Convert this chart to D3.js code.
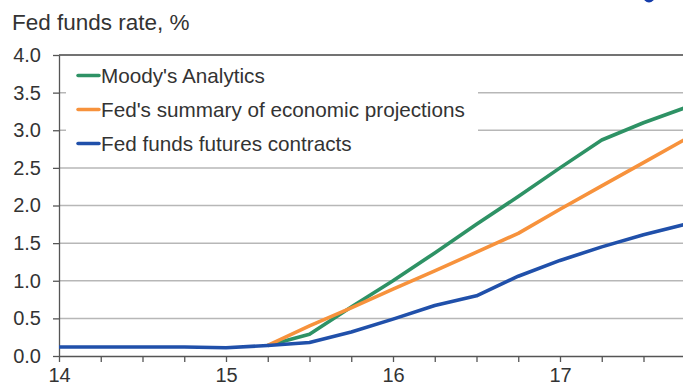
<!DOCTYPE html>
<html>
<head>
<meta charset="utf-8">
<script src="https://cdn.jsdelivr.net/npm/d3@7"></script>
<style>
  html, body { margin: 0; padding: 0; background: #fff; }
  svg { display: block; font-family: "Liberation Sans", Arial, sans-serif; }
</style>
</head>
<body>
<div class="container"></div>
<script>
// quarters as decimal years (14 = 2014Q1)
const periods = [14.0, 14.25, 14.5, 14.75, 15.0, 15.25, 15.5, 15.75, 16.0, 16.25, 16.5, 16.75, 17.0, 17.25, 17.5, 17.75];
const moodys  = [null, null, null, null, null, 0.14, 0.29, 0.65, 1.00, 1.37, 1.75, 2.12, 2.50, 2.87, 3.10, 3.30];
const fedSep  = [null, null, null, null, null, 0.14, 0.40, 0.64, 0.89, 1.13, 1.38, 1.63, 1.95, 2.26, 2.57, 2.88];
const futures = [0.12, 0.12, 0.12, 0.12, 0.11, 0.14, 0.18, 0.32, 0.49, 0.67, 0.80, 1.06, 1.27, 1.45, 1.61, 1.75];

const seriesNames = ["Moody's Analytics", "Fed's summary of economic projections", "Fed funds futures contracts"];
const seriesColors = ["rgb(46,146,101)", "rgb(247,146,60)", "rgb(32,80,170)"];
const yTicks = [0, 0.5, 1, 1.5, 2, 2.5, 3, 3.5, 4];
const xLabels = [14, 15, 16, 17];
const title = "Fed funds rate, %";

const WIDTH = 683, HEIGHT = 388;
const MARGIN = { left: 59, top: 55, bottom: 32 };
const TEXT_COLOR = "#333";
const AXIS_COLOR = "#555";

const svg = d3.select(".container")
  .append("svg")
  .attr("width", WIDTH)
  .attr("height", HEIGHT)
  .attr("viewBox", `0 0 ${WIDTH} ${HEIGHT}`);

// scales: one year is ~167px, the plot runs off the right edge
const x = d3.scaleLinear()
  .domain([14, 18])
  .range([MARGIN.left, MARGIN.left + 4 * 167]);
const y = d3.scaleLinear()
  .domain([0, 4])
  .range([HEIGHT - MARGIN.bottom, MARGIN.top]);

// bit of a logo peeking in at the top right
svg.append("ellipse")
  .attr("cx", 649).attr("cy", -4)
  .attr("rx", 6).attr("ry", 6.5)
  .attr("fill", "rgb(20,60,170)");

// title
svg.append("text")
  .attr("x", 12)
  .attr("y", 29.5)
  .attr("font-size", "22.5px")
  .attr("fill", TEXT_COLOR)
  .text(title);

// gridlines
svg.append("g")
  .selectAll("line")
  .data(yTicks.filter(d => d > 0 && d < 4))
  .enter()
  .append("line")
  .attr("x1", MARGIN.left)
  .attr("x2", WIDTH)
  .attr("y1", d => y(d))
  .attr("y2", d => y(d))
  .attr("stroke", "rgb(183,183,183)")
  .attr("stroke-width", 1.5);

// top frame line
svg.append("line")
  .attr("x1", MARGIN.left)
  .attr("x2", WIDTH)
  .attr("y1", y(4))
  .attr("y2", y(4))
  .attr("stroke", "#444")
  .attr("stroke-width", 1.3);

// Y axis
const yAxis = svg.append("g")
  .attr("transform", `translate(${MARGIN.left},0)`)
  .call(d3.axisLeft(y)
    .tickValues(yTicks)
    .tickFormat(d3.format(".1f"))
    .tickSize(6)
    .tickSizeOuter(0)
    .tickPadding(12));
yAxis.select(".domain").attr("stroke", AXIS_COLOR).attr("stroke-width", 1.3);
yAxis.selectAll(".tick line").attr("stroke", AXIS_COLOR).attr("stroke-width", 1.3);
yAxis.selectAll(".tick text")
  .attr("font-size", "20px")
  .attr("font-family", "Liberation Sans, Arial, sans-serif")
  .attr("fill", TEXT_COLOR);

// X axis, a tick each quarter, labels on years
const xAxis = svg.append("g")
  .attr("transform", `translate(0,${y(0)})`)
  .call(d3.axisBottom(x)
    .tickValues(periods)
    .tickFormat(d => xLabels.includes(d) ? String(d) : "")
    .tickSize(6)
    .tickSizeOuter(0)
    .tickPadding(6));
xAxis.select(".domain").attr("stroke", AXIS_COLOR).attr("stroke-width", 1.3);
xAxis.selectAll(".tick line").attr("stroke", AXIS_COLOR).attr("stroke-width", 1.3);
xAxis.selectAll(".tick text")
  .attr("font-size", "20px")
  .attr("font-family", "Liberation Sans, Arial, sans-serif")
  .attr("fill", TEXT_COLOR);

// legend box
svg.append("rect")
  .attr("x", 66)
  .attr("y", 58)
  .attr("width", 412)
  .attr("height", 102)
  .attr("fill", "#fff");

const legend = svg.append("g")
  .selectAll("g")
  .data(seriesNames)
  .enter()
  .append("g")
  .attr("transform", (d, i) => `translate(0,${75.5 + i * 34})`);
legend.append("line")
  .attr("x1", 78).attr("x2", 99)
  .attr("y1", 0).attr("y2", 0)
  .attr("stroke", (d, i) => seriesColors[i])
  .attr("stroke-width", 3.5)
  .attr("stroke-linecap", "round");
legend.append("text")
  .attr("x", 101)
  .attr("y", 0)
  .attr("dy", "0.36em")
  .attr("font-size", "20.7px")
  .attr("fill", TEXT_COLOR)
  .text(d => d);

// lines
const allSeries = [moodys, fedSep, futures];
const line = d3.line()
  .defined(d => d[1] != null)
  .x(d => x(d[0]))
  .y(d => y(d[1]));
allSeries.forEach((vals, i) => {
  svg.append("path")
    .datum(periods.map((p, j) => [p, vals[j]]))
    .attr("fill", "none")
    .attr("stroke", seriesColors[i])
    .attr("stroke-width", 3.6)
    .attr("stroke-linejoin", "round")
    .attr("d", line);
});
</script>
</body>
</html>
